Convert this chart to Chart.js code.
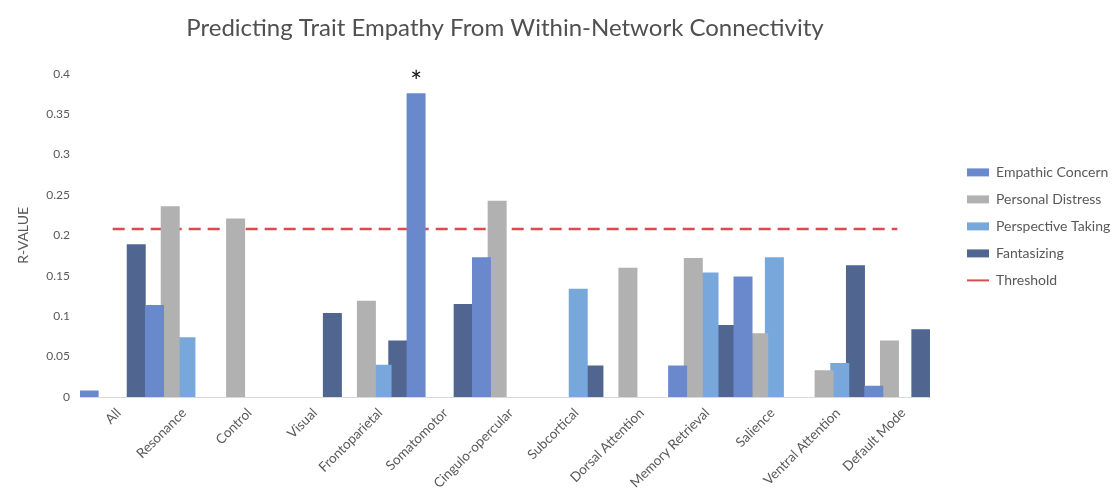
<!DOCTYPE html>
<html>
<head>
<meta charset="utf-8">
<script src="https://cdn.jsdelivr.net/npm/chart.js@4.4.1/dist/chart.umd.min.js"></script>
<style>
  html, body { margin: 0; padding: 0; background: #fff; }
  #wrap { width: 1112px; height: 495px; }
</style>
</head>
<body>
<div id="wrap"><canvas id="empathyChart"></canvas></div>
<script>
// networks on the x axis
const networks = ["All", "Resonance", "Control", "Visual", "Frontoparietal", "Somatomotor",
    "Cingulo-opercular", "Subcortical", "Dorsal Attention", "Memory Retrieval", "Salience",
    "Ventral Attention", "Default Mode"];

// r-values (null = no bar)
const empathicConcern   = [0.008, 0.114, null, null, null, 0.376, 0.173, null, null, 0.039, 0.149, null, 0.014];
const personalDistress  = [null, 0.236, 0.221, null, 0.119, null, 0.243, null, 0.160, 0.172, 0.079, 0.033, 0.070];
const perspectiveTaking = [null, 0.074, null, null, 0.040, null, null, 0.134, null, 0.154, 0.173, 0.042, null];
const fantasizing       = [0.189, null, null, 0.104, 0.070, 0.115, null, 0.039, null, 0.089, null, 0.163, 0.084];

const thresholdValue = 0.208;
const yTicks = [0, 0.05, 0.1, 0.15, 0.2, 0.25, 0.3, 0.35, 0.4];
const starIndex = 5; // Somatomotor

const grey = "#595959";
Chart.defaults.font.family = "Lato, 'Open Sans', sans-serif";
Chart.defaults.color = grey;

// asterisk above the significant bar + legend sizing
const extrasPlugin = {
    id: "extras",
    beforeInit(chart) {
        const legend = chart.legend;
        const fit = legend.fit;
        legend.fit = function () {
            fit.call(this);
            this.width = 182;
        };
    },
    afterLayout(chart) {
        chart.legend.left += 24;
    },
    afterDatasetsDraw(chart) {
        const bar = chart.getDatasetMeta(0).data[starIndex];
        const ctx = chart.ctx;
        ctx.save();
        ctx.fillStyle = "#111";
        ctx.font = "28px Lato, sans-serif";
        ctx.textAlign = "center";
        ctx.textBaseline = "alphabetic";
        ctx.fillText("*", bar.x, bar.y - 1);
        ctx.restore();
    }
};

function barSet(label, data, color) {
    return {
        type: "bar",
        label: label,
        data: data,
        backgroundColor: color,
        borderWidth: 0,
        categoryPercentage: 0.96,
        barPercentage: 1.21
    };
}

new Chart(document.getElementById("empathyChart"), {
    data: {
        labels: networks,
        datasets: [
            barSet("Empathic Concern", empathicConcern, "#6a89cd"),
            barSet("Personal Distress", personalDistress, "#b1b1b1"),
            barSet("Perspective Taking", perspectiveTaking, "#78a7db"),
            barSet("Fantasizing", fantasizing, "#506690"),
            {
                type: "line",
                label: "Threshold",
                data: networks.map(() => thresholdValue),
                borderColor: "#dc4a4f",
                borderWidth: 2.5,
                borderDash: [12, 7],
                pointRadius: 0,
                fill: false
            }
        ]
    },
    plugins: [extrasPlugin],
    options: {
        responsive: true,
        maintainAspectRatio: false,
        animation: false,
        layout: { padding: 0 },
        plugins: {
            title: {
                display: true,
                text: "Predicting Trait Empathy From Within-Network Connectivity",
                fullSize: false,
                color: "#505050",
                font: { size: 24, weight: "normal" },
                padding: { top: 14, bottom: 31 }
            },
            legend: {
                position: "right",
                align: "start",
                title: {
                    display: true,
                    text: " ",
                    font: { size: 12 },
                    padding: { top: 138, bottom: 0 }
                },
                labels: {
                    usePointStyle: true,
                    pointStyleWidth: 22,
                    boxHeight: 8,
                    padding: 13,
                    color: grey,
                    font: { size: 14 },
                    generateLabels(chart) {
                        return chart.data.datasets.map((ds, i) => ({
                            text: ds.label,
                            fillStyle: ds.type === "line" ? ds.borderColor : ds.backgroundColor,
                            strokeStyle: ds.type === "line" ? ds.borderColor : ds.backgroundColor,
                            lineWidth: ds.type === "line" ? 2 : 0,
                            pointStyle: ds.type === "line" ? "line" : "rect",
                            fontColor: grey,
                            datasetIndex: i
                        }));
                    }
                }
            },
            tooltip: { enabled: false }
        },
        scales: {
            x: {
                grid: { display: false, drawTicks: false },
                border: { display: true, color: "#d9d9d9", width: 1 },
                ticks: {
                    minRotation: 45,
                    maxRotation: 45,
                    autoSkip: false,
                    padding: 8,
                    labelOffset: 6,
                    font: { size: 13.5 },
                    color: grey
                },
                afterFit(scale) { scale.height = 98; }
            },
            y: {
                min: 0,
                max: 0.4,
                afterBuildTicks(scale) { scale.ticks = yTicks.map(v => ({ value: v })); },
                grid: { display: false, drawTicks: false },
                border: { display: false },
                ticks: {
                    padding: 10,
                    font: { size: 12 },
                    color: grey,
                    callback: v => String(Number(v.toFixed(2)))
                },
                title: {
                    display: true,
                    text: "R-VALUE",
                    color: grey,
                    font: { size: 14 },
                    padding: { top: 15, bottom: 0 }
                },
                afterFit(scale) { scale.width = 80; }
            }
        }
    }
});
</script>
</body>
</html>
